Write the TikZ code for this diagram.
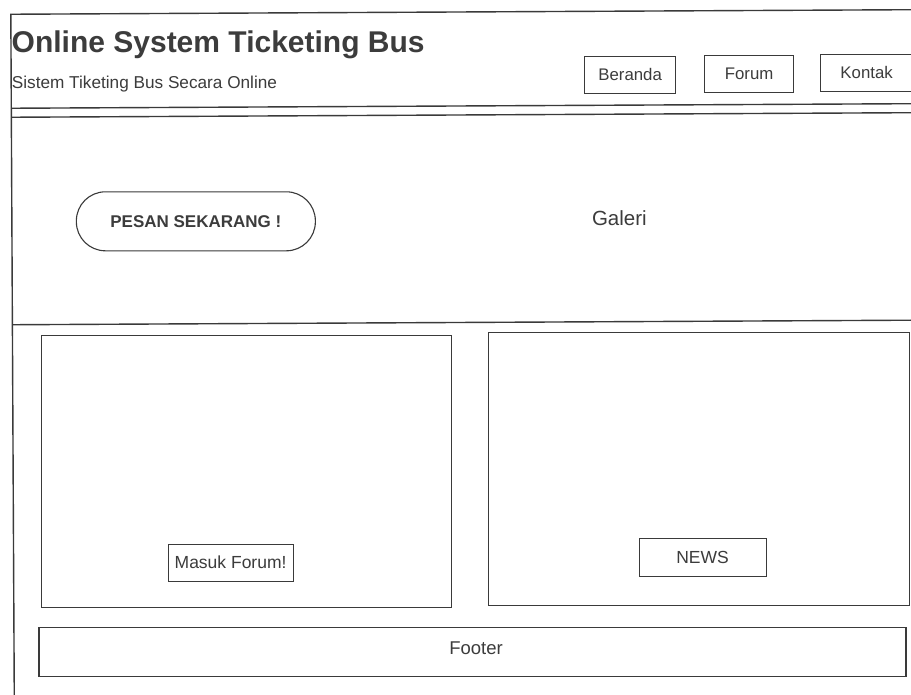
\documentclass[tikz,border=0pt]{standalone}
\usepackage{fontspec}
\setmainfont{Liberation Sans}
\definecolor{linec}{HTML}{3A3A3A}
\definecolor{txtc}{HTML}{3C3C3C}
\tikzset{
  frame/.style={draw=linec, line width=1.4pt},
  panel/.style={draw=linec, line width=1.3pt, rectangle, inner sep=0pt},
  btn/.style={draw=linec, line width=1.1pt, rectangle, inner sep=0pt, text=txtc,
    font=\fontsize{16.8}{19}\selectfont},
  lbl/.style={inner sep=0pt, text=txtc},
}
\begin{document}
\begin{tikzpicture}[x=1pt,y=-1pt]
\useasboundingbox (0,0) rectangle (911,695);
\clip (0,0) rectangle (911,695);
\fill[white] (0,0) rectangle (911,695);
\begin{scope}[rotate around={0.29:(455.5,347.5)}]
  % page frame
  \draw[frame] (915,12) -- (12.5,12) -- (12.5,710);
  \draw[frame] (12.5,106) -- (915,106);
  \draw[frame] (12.5,115) -- (915,115);
  \draw[frame] (12.5,322.5) -- (915,322.5);
  % header texts
  \node[lbl, anchor=base west, font=\bfseries\fontsize{30}{33}\selectfont] (title) at (13,50) {Online System Ticketing Bus};
  \node[lbl, anchor=base west, font=\fontsize{17.2}{19}\selectfont] (subtitle) at (13,86.5) {Sistem Tiketing Bus Secara Online};
  % menu buttons
  \node[btn, minimum width=91pt, minimum height=37pt] (beranda) at (631.5,75.5) {Beranda};
  \node[btn, minimum width=89pt, minimum height=37pt] (forum) at (750.5,75.2) {Forum};
  \node[btn, minimum width=92pt, minimum height=37pt] (kontak) at (868,75) {Kontak};
  % hero
  \node[btn, rounded corners=29pt, minimum width=239pt, minimum height=59pt,
        font=\bfseries\fontsize{17}{19}\selectfont] (pesan) at (196.5,220) {PESAN SEKARANG !};
  \node[lbl, font=\fontsize{20.5}{23}\selectfont] (galeri) at (620,219) {Galeri};
  % content panels
  \node[panel, anchor=north west, minimum width=410pt, minimum height=272pt] (forumpanel) at (41,333) {};
  \node[panel, anchor=north west, minimum width=421pt, minimum height=273pt] (newspanel) at (488,332) {};
  \node[btn, minimum width=125pt, minimum height=37pt, font=\fontsize{17.5}{19}\selectfont] (masuk) at (229.5,561.5) {Masuk Forum!};
  \node[btn, minimum width=127pt, minimum height=38pt, font=\fontsize{17.5}{19}\selectfont] (news) at (701.5,558.4) {NEWS};
  % footer
  \node[panel, anchor=north west, minimum width=867pt, minimum height=48.5pt] (footer) at (37,625) {};
  \node[lbl, font=\fontsize{18.5}{21}\selectfont] (footertext) at (474.5,648.5) {Footer};
\end{scope}
\end{tikzpicture}
\end{document}
